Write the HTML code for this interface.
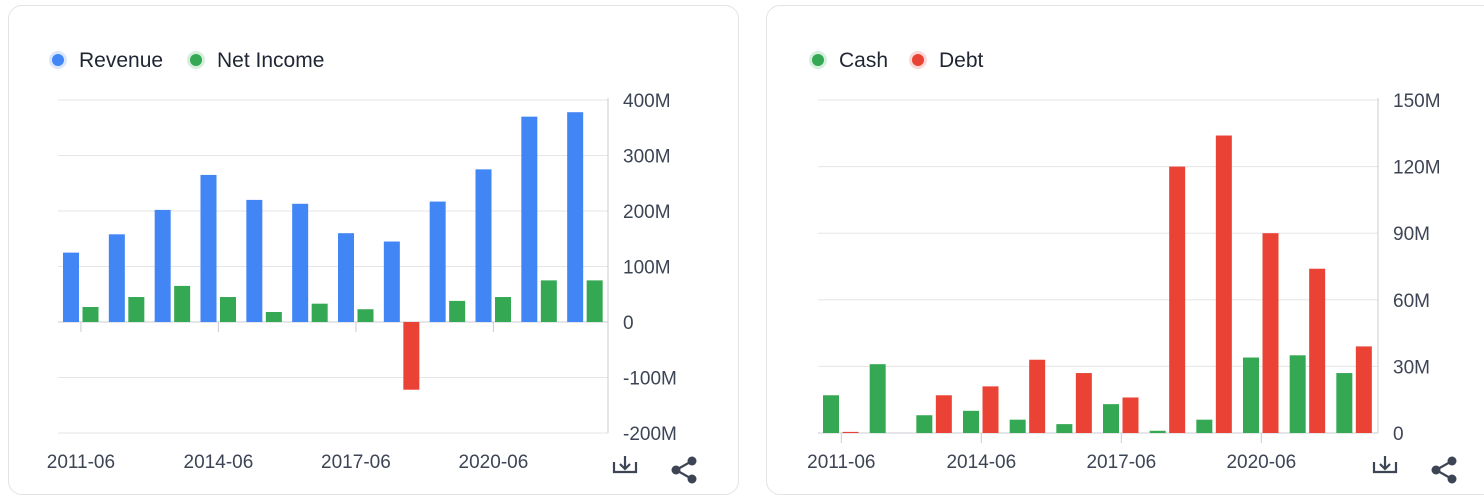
<!DOCTYPE html>
<html><head><meta charset="utf-8"><style>
html,body{margin:0;background:#fff;width:1484px;height:498px;overflow:hidden;font-family:"Liberation Sans",sans-serif}
#wrap{position:relative;width:1484px;height:498px;overflow:hidden}
.card{position:absolute;top:5px;height:490px;border:1px solid #e3e3e6;border-radius:14px;background:#fff;box-sizing:border-box}
svg{position:absolute;left:0;top:0}
text{font-family:"Liberation Sans",sans-serif;fill:#3d4555;font-size:19px}
</style></head><body>
<div id="wrap">
<div class="card" style="left:8px;width:731px"></div>
<div class="card" style="left:766px;width:730px"></div>
<svg id="s" width="1484" height="498"></svg>
</div>
<script>
const years=["2011-06","2012-06","2013-06","2014-06","2015-06","2016-06","2017-06","2018-06","2019-06","2020-06","2021-06","2022-06"];
const revenue=[125,158,202,265,220,213,160,145,217,275,370,378];
const netIncome=[27,45,65,45,18,33,23,-122,38,45,75,75];
const leftTicks=[400,300,200,100,0,-100,-200];
const leftTickLabels=["400M","300M","200M","100M","0","-100M","-200M"];
const cash=[17,31,8,10,6,4,13,1,6,34,35,27];
const debt=[0.5,0,17,21,33,27,16,120,134,90,74,39];
const rightTicks=[150,120,90,60,30,0];
const rightTickLabels=["150M","120M","90M","60M","30M","0"];
const xLabels=["2011-06","2014-06","2017-06","2020-06"];
const NS="http://www.w3.org/2000/svg",S=document.getElementById('s');
function el(t,a,txt){const e=document.createElementNS(NS,t);for(const k in a)e.setAttribute(k,a[k]);if(txt!=null)e.textContent=txt;S.appendChild(e);return e;}
function chart(o){
 const y=v=>o.y0-(v-o.ymin)/(o.ymax-o.ymin)*(o.y0-o.y1);
 const gw=(o.x1-o.x0)/years.length;
 o.ticks.forEach((t,i)=>{
  let g=el('line',{x1:o.x0,x2:o.x1,y1:y(t),y2:y(t),stroke:'#e6e6e6','stroke-width':1});
  
  let tx=el('text',{x:o.x1+15,y:y(t)+7},o.tickLabels[i]);
  
 });
 el('line',{x1:o.x1,x2:o.x1,y1:y(o.ymax)-2,y2:y(o.ymin),stroke:'#c8ccd6'});
 el('line',{x1:o.x0,x2:o.x1,y1:y(0),y2:y(0),stroke:'#c8ccd6'});
 [0,3,6,9].forEach((gi,i)=>{
  const cx=o.x0+gw*(gi+0.5);
  el('line',{x1:cx,x2:cx,y1:y(0),y2:y(0)+10,stroke:'#c8ccd6'});
  let tx=el('text',{x:cx,y:o.labelY,'text-anchor':'middle'},xLabels[i]);
  
 });
 years.forEach((yr,i)=>{
  const gx=o.x0+gw*i;
  [[o.a,0],[o.b,1]].forEach(([arr,k])=>{
   const v=arr[i];if(!v)return;
   const col=k==0?o.ca:(v<0?'#ea4335':o.cb);
   const bx=gx+5+k*19.5;
   const r=el('rect',{x:bx,y:Math.min(y(v),y(0)),width:16,height:Math.abs(y(v)-y(0)),fill:col});
   
   
  });
 });
 o.legend.forEach((l,i)=>{
  el('circle',{cx:l[2],cy:60,r:9,fill:l[1],opacity:0.2});
  let c=el('circle',{cx:l[2],cy:60,r:6,fill:l[1]});
  
  let t=el('text',{x:l[2]+21,y:67,style:'font-size:21px;fill:#1f2533'},l[0]);
  
 });
 const ix=o.iconX;
 let d=el('path',{d:`M${ix-11} ${462}v10h22v-10M${ix} 456v13M${ix-5} 464l5 5 5-5`,stroke:'#3d4555','stroke-width':2.2,fill:'none'});
 
 const sx=ix+58;
 el('path',{d:`M${sx+9} 461L${sx-7} 470L${sx+9} 479`,stroke:'#3d4555','stroke-width':2.2,fill:'none'});
 [[sx+9,461],[sx-7,470],[sx+9,479]].forEach(p=>{let c=el('circle',{cx:p[0],cy:p[1],r:4.5,fill:'#3d4555'});});
}
chart({x0:58,x1:608,y0:433,y1:100,ymin:-200,ymax:400,ticks:leftTicks,tickLabels:leftTickLabels,a:revenue,b:netIncome,ca:'#4285f4',cb:'#34a853',na:'revenue',nb:'net-income',labelY:468,iconX:625,
 legend:[['Revenue','#4285f4',58],['Net Income','#34a853',196]]});
chart({x0:818,x1:1378,y0:433,y1:100,ymin:0,ymax:150,ticks:rightTicks,tickLabels:rightTickLabels,a:cash,b:debt,ca:'#34a853',cb:'#ea4335',na:'cash',nb:'debt',labelY:468,iconX:1385,
 legend:[['Cash','#34a853',818],['Debt','#ea4335',918]]});
</script></body></html>
